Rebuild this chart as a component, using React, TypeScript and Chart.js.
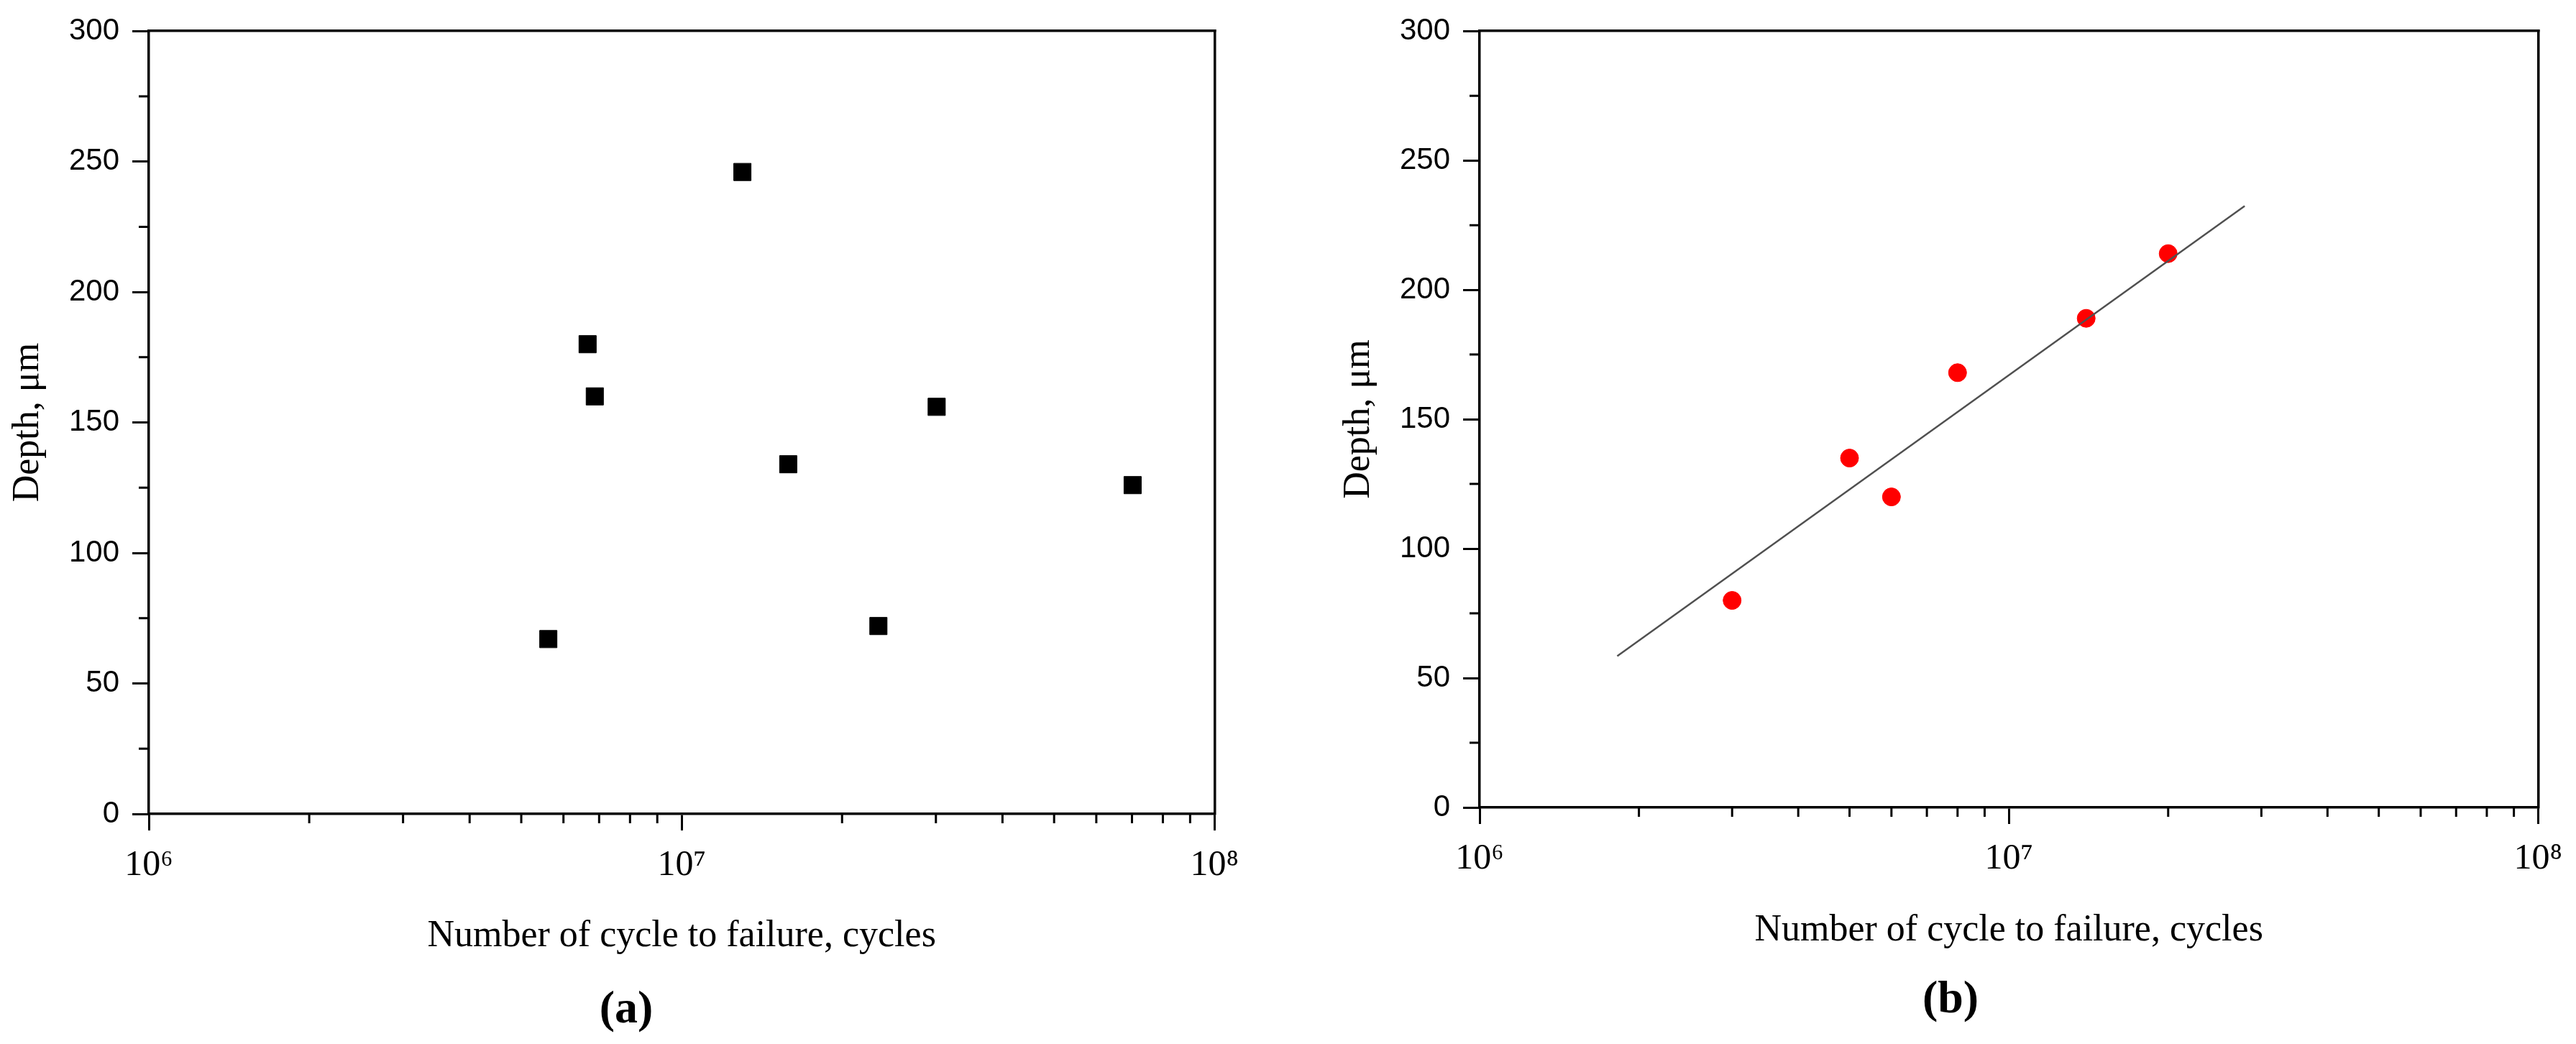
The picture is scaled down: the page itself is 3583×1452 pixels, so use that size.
import React, { useEffect, useRef } from 'react';
import { Chart, registerables } from 'chart.js';

Chart.register(...registerables);

// ---------------- data ----------------
const xTickValues = [1e6, 2e6, 3e6, 4e6, 5e6, 6e6, 7e6, 8e6, 9e6, 1e7, 2e7, 3e7, 4e7, 5e7, 6e7, 7e7, 8e7, 9e7, 1e8];
const xMajorValues = [1e6, 1e7, 1e8];
const xMajorLabels = ['10⁶', '10⁷', '10⁸'];
const yTickValues = [0, 25, 50, 75, 100, 125, 150, 175, 200, 225, 250, 275, 300];
const yMajorValues = [0, 50, 100, 150, 200, 250, 300];
const yMajorLabels = ['0', '50', '100', '150', '200', '250', '300'];

// panel (a)
const cyclesA = [5.62e6, 6.66e6, 6.87e6, 1.3e7, 1.585e7, 2.34e7, 3.01e7, 7.02e7];
const depthA = [67, 180, 160, 246, 134, 72, 156, 126];

// panel (b)
const cyclesB = [3.0e6, 5.0e6, 6.0e6, 8.0e6, 1.4e7, 2.0e7];
const depthB = [80, 135, 120, 168, 189, 214];
const fitCyclesB = [1.82e6, 2.79e7];
const fitDepthB = [58.5, 232.4];

const xAxisTitle = 'Number of cycle to failure, cycles';
const yAxisTitle = 'Depth, μm';
const panelLabels = ['(a)', '(b)'];

// ---------------- layout / style ----------------
const SERIF = "'Liberation Serif', 'Times New Roman', Times, serif";
const SANS = "'Liberation Sans', Arial, Helvetica, sans-serif";
const AXIS_W = 3.5;

type PanelLayout = {
  left: number; width: number; height: number;
  padTop: number; padBottom: number;
  yAxisWidth: number; rightWidth: number; xAxisHeight: number;
  yTitlePad: number; labelPad: number;
};

const layoutA: PanelLayout = {
  left: 0, width: 1742, height: 1452, padTop: 35, padBottom: 8.6,
  yAxisWidth: 207, rightWidth: 48, xAxisHeight: 202, yTitlePad: 8, labelPad: 32.6,
};
const layoutB: PanelLayout = {
  left: 1843, width: 1740, height: 1452, padTop: 35, padBottom: 22.6,
  yAxisWidth: 215, rightWidth: 45, xAxisHeight: 202.7, yTitlePad: 16, labelPad: 26.9,
};

const isMajorX = (v: number) => xMajorValues.some((m) => Math.abs(m - v) / m < 1e-9);
const isMajorY = (v: number) => yMajorValues.includes(v);

const minorTickPlugin = {
  id: 'minorTicks',
  afterDraw(chart: any) {
    const { ctx } = chart;
    const xs = chart.scales.x;
    const ys = chart.scales.y;
    ctx.save();
    ctx.strokeStyle = '#000';
    ctx.lineWidth = 3;
    ctx.beginPath();
    xs.ticks.forEach((t: any) => {
      if (isMajorX(t.value)) return;
      const px = xs.getPixelForValue(t.value);
      ctx.moveTo(px, xs.top);
      ctx.lineTo(px, xs.top + 13);
    });
    ys.ticks.forEach((t: any) => {
      if (isMajorY(t.value)) return;
      const py = ys.getPixelForValue(t.value);
      ctx.moveTo(ys.right, py);
      ctx.lineTo(ys.right - 14, py);
    });
    ctx.stroke();
    ctx.restore();
  },
};

function frameScale(axis: 'x' | 'y', position: string, size: (s: any) => void) {
  return {
    type: 'linear',
    axis,
    position,
    min: 0,
    max: 1,
    afterFit: size,
    ticks: { display: false },
    grid: { drawOnChartArea: false, drawTicks: false, lineWidth: AXIS_W },
    border: { display: true, color: '#000', width: AXIS_W },
  };
}

function buildConfig(datasets: any[], L: PanelLayout, label: string): any {
  return {
    type: 'scatter',
    data: { datasets },
    options: {
      responsive: false,
      animation: false,
      events: [],
      layout: { padding: { top: L.padTop, bottom: L.padBottom, left: 0, right: 0 } },
      plugins: {
        legend: { display: false },
        tooltip: { enabled: false },
        title: {
          display: true,
          text: label,
          position: 'bottom',
          color: '#000',
          font: { family: SERIF, size: 64, weight: 'bold', lineHeight: 1.2 },
          padding: { top: L.labelPad, bottom: 0 },
        },
      },
      scales: {
        x: {
          type: 'logarithmic',
          position: 'bottom',
          min: 1e6,
          max: 1e8,
          afterBuildTicks: (s: any) => {
            s.ticks = xTickValues.map((v) => ({ value: v }));
          },
          afterFit: (s: any) => {
            s.height = L.xAxisHeight;
          },
          ticks: {
            autoSkip: false,
            maxRotation: 0,
            minRotation: 0,
            padding: 19,
            color: '#000',
            font: { family: SERIF, size: 50 },
            callback: (v: any) => {
              const i = xMajorValues.findIndex((m) => Math.abs(m - Number(v)) / m < 1e-9);
              return i >= 0 ? xMajorLabels[i] : '';
            },
          },
          grid: {
            drawOnChartArea: false,
            drawTicks: true,
            tickLength: 23,
            lineWidth: 3,
            tickWidth: 3,
            tickColor: (c: any) => (c.tick && !isMajorX(c.tick.value) ? 'rgba(0,0,0,0)' : '#000'),
          },
          border: { display: true, color: '#000', width: AXIS_W },
          title: {
            display: true,
            text: xAxisTitle,
            color: '#000',
            font: { family: SERIF, size: 52, lineHeight: 1.2 },
            padding: { top: 0, bottom: 0 },
          },
        },
        y: {
          type: 'linear',
          position: 'left',
          min: 0,
          max: 300,
          afterBuildTicks: (s: any) => {
            s.ticks = yTickValues.map((v) => ({ value: v }));
          },
          afterFit: (s: any) => {
            s.width = L.yAxisWidth;
          },
          ticks: {
            autoSkip: false,
            padding: 18,
            color: '#000',
            font: { family: SANS, size: 42 },
            callback: (v: any) => {
              const i = yMajorValues.indexOf(Number(v));
              return i >= 0 ? yMajorLabels[i] : '';
            },
          },
          grid: {
            drawOnChartArea: false,
            drawTicks: true,
            tickLength: 23,
            lineWidth: 3,
            tickWidth: 3,
            tickColor: (c: any) => (c.tick && !isMajorY(c.tick.value) ? 'rgba(0,0,0,0)' : '#000'),
          },
          border: { display: true, color: '#000', width: AXIS_W },
          title: {
            display: true,
            text: yAxisTitle,
            color: '#000',
            font: { family: SERIF, size: 52, lineHeight: 1.2 },
            padding: { top: L.yTitlePad, bottom: 0 },
          },
        },
        xTop: frameScale('x', 'top', (s: any) => {
          s.height = 0;
        }),
        yRight: frameScale('y', 'right', (s: any) => {
          s.width = L.rightWidth;
        }),
      },
    },
    plugins: [minorTickPlugin],
  };
}

const datasetsA = [
  {
    label: 'Depth (a)',
    data: cyclesA.map((c, i) => ({ x: c, y: depthA[i] })),
    pointStyle: 'rect',
    pointRadius: 17,
    backgroundColor: '#000',
    borderColor: '#000',
    borderWidth: 1,
    showLine: false,
  },
];

const datasetsB = [
  {
    label: 'Fit',
    data: fitCyclesB.map((c, i) => ({ x: c, y: fitDepthB[i] })),
    showLine: true,
    borderColor: '#505050',
    borderWidth: 2.5,
    pointRadius: 0,
    fill: false,
    tension: 0,
  },
  {
    label: 'Depth (b)',
    data: cyclesB.map((c, i) => ({ x: c, y: depthB[i] })),
    pointStyle: 'circle',
    pointRadius: 12.5,
    backgroundColor: '#ff0000',
    borderColor: '#ff0000',
    borderWidth: 1,
    showLine: false,
  },
];

function ChartPanel({ layout, datasets, label }: { layout: PanelLayout; datasets: any[]; label: string }) {
  const ref = useRef<HTMLCanvasElement>(null);
  useEffect(() => {
    const chart = new Chart(ref.current as HTMLCanvasElement, buildConfig(datasets, layout, label));
    return () => chart.destroy();
  }, []);
  return (
    <canvas
      ref={ref}
      width={layout.width}
      height={layout.height}
      style={{ position: 'absolute', left: layout.left, top: 0, width: layout.width, height: layout.height }}
    />
  );
}

export default function App() {
  return (
    <div
      style={{
        position: 'absolute',
        left: 0,
        top: 0,
        width: 3583,
        height: 1452,
        background: '#fff',
        overflow: 'hidden',
      }}
    >
      <ChartPanel layout={layoutA} datasets={datasetsA} label={panelLabels[0]} />
      <ChartPanel layout={layoutB} datasets={datasetsB} label={panelLabels[1]} />
    </div>
  );
}
